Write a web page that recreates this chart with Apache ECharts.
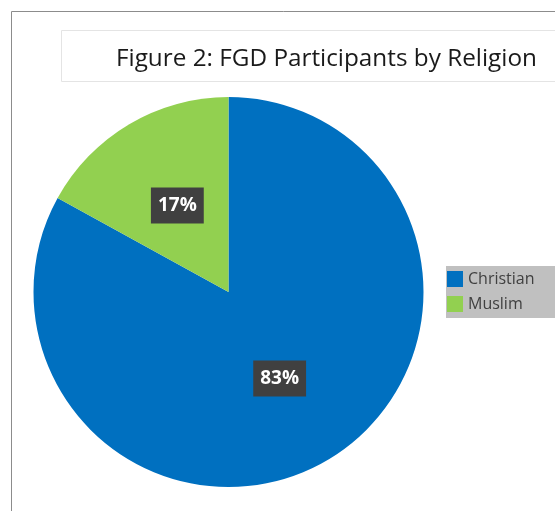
<!DOCTYPE html>
<html>
<head>
<meta charset="utf-8">
<script src="https://cdn.jsdelivr.net/npm/echarts@6/dist/echarts.min.js"></script>
<style>
  html, body { margin: 0; padding: 0; background: #ffffff; }
  #chart { width: 555px; height: 511px; }
</style>
</head>
<body>
<div id="chart"></div>
<script>
// Religion breakdown of focus group participants
const titleText = 'Figure 2: FGD Participants by Religion';
const religions = ['Christian', 'Muslim'];
const shares = [83, 17];
const sliceColors = ['#0070c0', '#92d050'];

const chart = echarts.init(document.getElementById('chart'), null, { renderer: 'canvas' });

const pieData = religions.map((name, i) => ({
  name: name,
  value: shares[i],
  itemStyle: { color: sliceColors[i] }
}));

chart.setOption({
  animation: false,
  graphic: [
    // outer frame
    {
      type: 'polyline',
      shape: { points: [[11.5, 600], [11.5, 11.5], [600, 11.5]] },
      style: { stroke: '#8c8c8c', lineWidth: 1, fill: null },
      silent: true
    },
    // title panel
    {
      type: 'rect',
      shape: { x: 61.5, y: 30.5, width: 560, height: 51 },
      style: { fill: '#ffffff', stroke: '#e4e4e4', lineWidth: 1 },
      silent: true
    },
    // legend panel
    {
      type: 'rect',
      shape: { x: 446, y: 266, width: 120, height: 52 },
      style: { fill: '#c0c0c0' },
      silent: true,
      z: 0
    }
  ],
  title: {
    text: titleText,
    left: 111,
    top: 42,
    textStyle: {
      fontFamily: 'Open Sans',
      fontSize: 24.3,
      fontWeight: 'normal',
      color: '#1a1a1a'
    }
  },
  legend: {
    orient: 'vertical',
    left: 447,
    top: 271,
    itemWidth: 16,
    itemHeight: 16,
    itemGap: 9,
    icon: 'rect',
    padding: 0,
    data: religions,
    textStyle: {
      fontFamily: 'Open Sans',
      fontSize: 16,
      color: '#404040'
    },
    z: 5
  },
  series: [{
    type: 'pie',
    center: [228.5, 292],
    radius: [0, 195],
    startAngle: 90,
    clockwise: true,
    silent: true,
    data: pieData,
    label: {
      show: true,
      position: 'inside',
      formatter: '{c}%',
      fontFamily: 'Open Sans',
      fontSize: 19,
      fontWeight: 'bold',
      color: '#ffffff',
      backgroundColor: '#404040',
      padding: [9, 7, 8, 7]
    },
    labelLine: { show: false }
  }]
});
</script>
</body>
</html>
